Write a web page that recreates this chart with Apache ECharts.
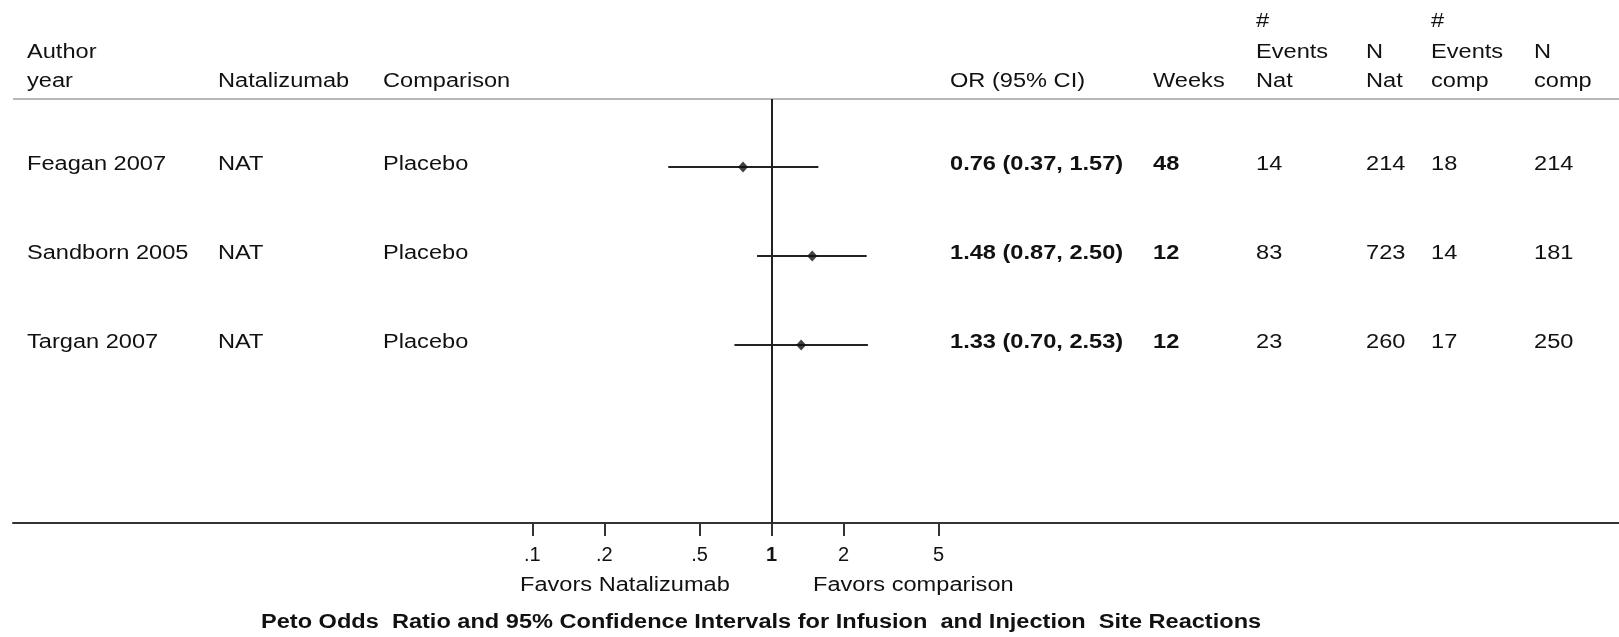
<!DOCTYPE html>
<html>
<head>
<meta charset="utf-8">
<title>Peto Odds Ratio forest plot</title>
<script src="https://cdn.jsdelivr.net/npm/echarts@6/dist/echarts.min.js"></script>
<style>
  html, body { margin: 0; padding: 0; background: #fff; }
  #chart { width: 1619px; height: 637px; }
</style>
</head>
<body>
<div id="chart"></div>
<script>
// Study rows
const studies = ['Feagan 2007', 'Sandborn 2005', 'Targan 2007'];
const drug = ['NAT', 'NAT', 'NAT'];
const comparison = ['Placebo', 'Placebo', 'Placebo'];
const orValue = [0.76, 1.48, 1.33];
const ciLow = [0.37, 0.87, 0.70];
const ciHigh = [1.57, 2.50, 2.53];
const weeks = [48, 12, 12];
const eventsNat = [14, 83, 23];
const nNat = [214, 723, 260];
const eventsComp = [18, 14, 17];
const nComp = [214, 181, 250];

// Odds-ratio axis ticks
const tickValues = [0.1, 0.2, 0.5, 1, 2, 5];
const tickLabels = ['.1', '.2', '.5', '1', '2', '5'];

const FONT = '"Liberation Sans", Arial, sans-serif';
const INK = '#111';
const STRETCH = 1.18;   // horizontal text stretch
const FS = 20;

// column anchors (px)
const col = {
  author: 27, drug: 218, comp: 383, or: 950, weeks: 1153,
  evNat: 1256, nNat: 1366, evComp: 1431, nComp: 1534
};

const fmtCI = i => orValue[i].toFixed(2) + ' (' + ciLow[i].toFixed(2) + ', ' + ciHigh[i].toFixed(2) + ')';

function txt(x, y, text, opts) {
  opts = opts || {};
  return {
    type: 'text', x: x, y: y, scaleX: opts.scaleX || STRETCH,
    silent: true,
    style: {
      text: text,
      fontSize: opts.size || FS,
      fontFamily: FONT,
      fontWeight: opts.weight || 'normal',
      fill: INK,
      align: opts.align || 'left',
      verticalAlign: 'middle'
    }
  };
}

// header block
const header = [
  [col.author, ['', 'Author', 'year']],
  [col.drug, ['', '', 'Natalizumab']],
  [col.comp, ['', '', 'Comparison']],
  [col.or, ['', '', 'OR (95% CI)']],
  [col.weeks, ['', '', 'Weeks']],
  [col.evNat, ['#', 'Events', 'Nat']],
  [col.nNat, ['', 'N', 'Nat']],
  [col.evComp, ['#', 'Events', 'comp']],
  [col.nComp, ['', 'N', 'comp']]
];
const headerLineY = [21, 52.5, 81.5];
const headerGraphics = [];
header.forEach(([x, lines]) => {
  lines.forEach((t, k) => { if (t) headerGraphics.push(txt(x, headerLineY[k], t)); });
});

const chart = echarts.init(document.getElementById('chart'), null, { renderer: 'canvas' });

chart.setOption({
  backgroundColor: '#fff',
  animation: false,
  grid: { left: 13, right: 0, top: 99, bottom: 114, containLabel: false },
  xAxis: {
    type: 'log',
    logBase: 10,
    position: 'bottom',
    min: Math.pow(10, -3.172),
    max: Math.pow(10, 3.544),
    axisLine: { show: true, onZero: false, lineStyle: { color: '#333', width: 2 } },
    axisTick: { show: true, length: 13, customValues: tickValues, lineStyle: { color: '#333', width: 2 } },
    axisLabel: {
      show: true,
      customValues: tickValues,
      margin: 22,
      fontSize: FS,
      fontFamily: FONT,
      color: INK,
      formatter: v => {
        const i = tickValues.findIndex(t => Math.abs(t - v) / t < 1e-6);
        const s = i >= 0 ? tickLabels[i] : '';
        return s === '1' ? '{b|' + s + '}' : s;
      },
      rich: { b: { fontWeight: 'bold', fontSize: FS, fontFamily: FONT, color: INK } }
    },
    splitLine: { show: false }
  },
  yAxis: {
    type: 'value', inverse: true, min: -0.764, max: 4,
    show: false, splitLine: { show: false }
  },
  graphic: [
    { type: 'line', silent: true, shape: { x1: 13, y1: 99, x2: 1619, y2: 99 },
      style: { stroke: '#b8b8b8', lineWidth: 2 } },
    ...headerGraphics,
    txt(520, 585, 'Favors Natalizumab'),
    txt(813, 585, 'Favors comparison'),
    txt(261, 622, 'Peto Odds  Ratio and 95% Confidence Intervals for Infusion  and Injection  Site Reactions',
        { weight: 'bold', scaleX: 1.178 })
  ],
  series: [
    {
      // table text for each study row
      type: 'custom',
      name: 'table',
      silent: true,
      data: studies.map((s, i) => [1, i]),
      encode: { x: 0, y: 1 },
      renderItem: (params, api) => {
        const i = params.dataIndex;
        const y = api.coord([1, api.value(1)])[1] - 3;
        return {
          type: 'group',
          children: [
            txt(col.author, y, studies[i]),
            txt(col.drug, y, drug[i]),
            txt(col.comp, y, comparison[i]),
            txt(col.or, y, fmtCI(i), { weight: 'bold' }),
            txt(col.weeks, y, String(weeks[i]), { weight: 'bold' }),
            txt(col.evNat, y, String(eventsNat[i])),
            txt(col.nNat, y, String(nNat[i])),
            txt(col.evComp, y, String(eventsComp[i])),
            txt(col.nComp, y, String(nComp[i]))
          ]
        };
      },
      z: 3
    },
    {
      // confidence interval whiskers
      type: 'custom',
      name: 'ci',
      silent: true,
      data: studies.map((s, i) => [ciLow[i], ciHigh[i], i]),
      encode: { x: [0, 1], y: 2 },
      renderItem: (params, api) => {
        const a = api.coord([api.value(0), api.value(2)]);
        const b = api.coord([api.value(1), api.value(2)]);
        return {
          type: 'line',
          shape: { x1: a[0], y1: a[1], x2: b[0], y2: b[1] },
          style: { stroke: '#222', lineWidth: 2 }
        };
      },
      z: 4
    },
    {
      // point estimates + line of no effect
      type: 'scatter',
      name: 'OR',
      silent: true,
      symbol: 'diamond',
      symbolSize: [10, 11],
      itemStyle: { color: '#111' },
      data: orValue.map((v, i) => [v, i]),
      markLine: {
        silent: true,
        symbol: ['none', 'none'],
        label: { show: false },
        lineStyle: { color: '#222', width: 2, type: 'solid' },
        data: [{ xAxis: 1 }]
      },
      z: 5
    }
  ]
});
</script>
</body>
</html>
